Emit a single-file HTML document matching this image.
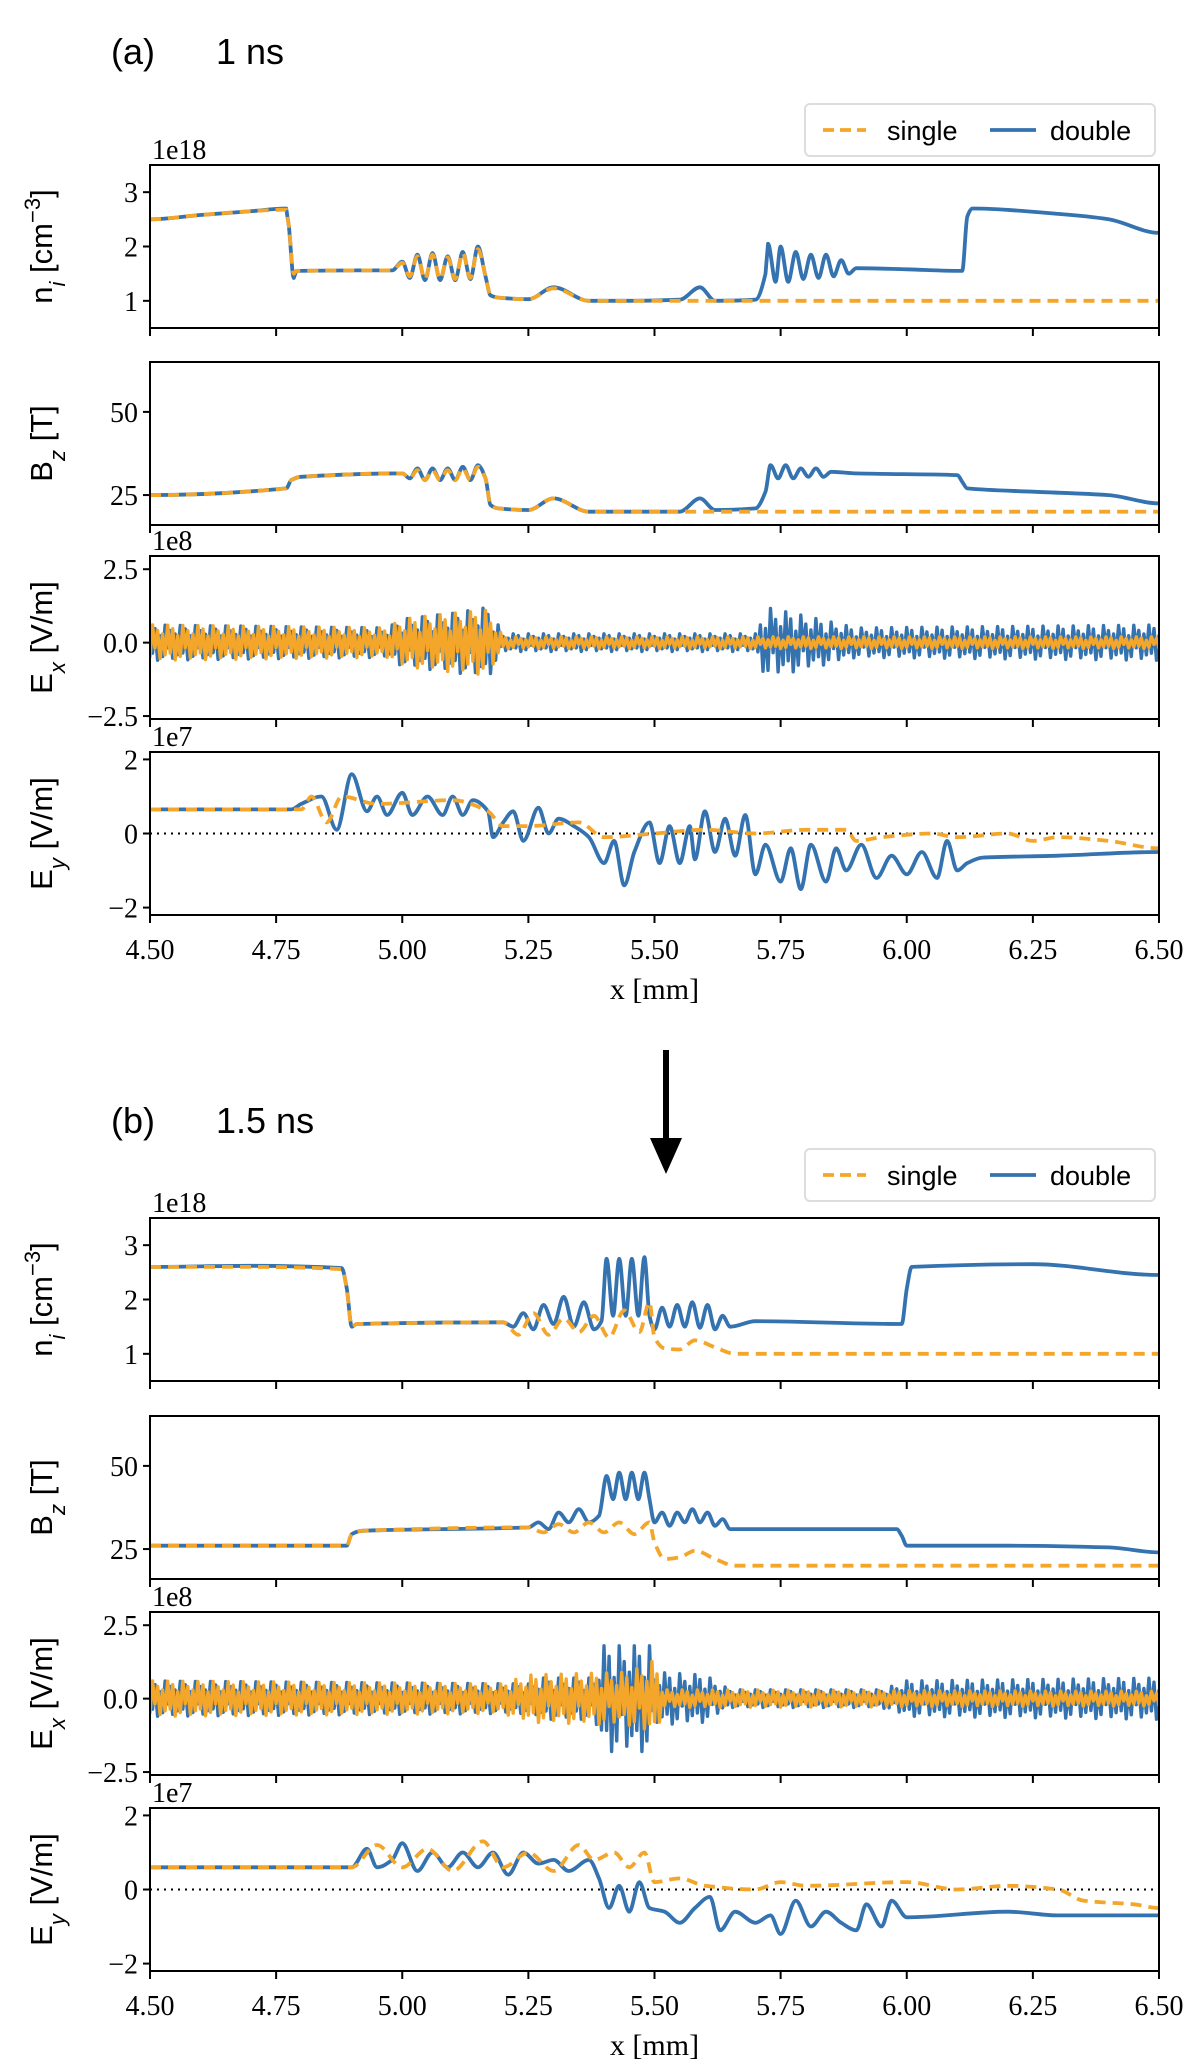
<!DOCTYPE html>
<html><head><meta charset="utf-8"><style>
html,body{margin:0;padding:0;background:#fff}
svg{display:block}
.tk{font-family:"Liberation Serif",serif;font-size:28px;fill:#000}
.yl{font-family:"Liberation Sans",sans-serif;font-size:31px;fill:#000}
.tt{font-family:"Liberation Sans",sans-serif;font-size:36px;fill:#000}
.lg{font-family:"Liberation Sans",sans-serif;font-size:27px;fill:#000}
</style></head><body>
<svg id="fig" width="1200" height="2072" viewBox="0 0 1200 2072" xmlns="http://www.w3.org/2000/svg"></svg>
<script>
// ---------- DATA ----------
const xTicks=[4.5,4.75,5.0,5.25,5.5,5.75,6.0,6.25,6.5];
const xTickLabels=["4.50","4.75","5.00","5.25","5.50","5.75","6.00","6.25","6.50"];
const niTicks=[1,2,3], bTicks=[25,50], exTicks=[-2.5,0,2.5], eyTicks=[-2,0,2];
const exTickLabels=["\u22122.5","0.0","2.5"], eyTickLabels=["\u22122","0","2"];

// Panel (a) 1 ns
const aNiDoubleX=[4.5,4.6,4.7,4.77,4.775,4.785,4.79,4.9,4.98,5.0,5.015,5.03,5.045,5.06,5.075,5.09,5.105,5.12,5.135,5.15,5.165,5.175,5.19,5.25,5.3,5.37,5.45,5.55,5.59,5.62,5.7,5.72,5.725,5.74,5.75,5.765,5.78,5.795,5.81,5.825,5.84,5.855,5.87,5.885,5.9,6.0,6.11,6.12,6.13,6.3,6.4,6.5];
const aNiDoubleY=[2.5,2.58,2.65,2.7,2.4,1.42,1.55,1.56,1.56,1.72,1.42,1.85,1.38,1.88,1.38,1.82,1.38,1.9,1.4,2.0,1.45,1.1,1.06,1.03,1.25,1.0,1.0,1.02,1.25,1.0,1.02,1.5,2.05,1.35,2.0,1.35,1.9,1.4,1.85,1.42,1.85,1.45,1.75,1.5,1.6,1.58,1.55,2.55,2.7,2.6,2.5,2.25];
const aNiSingleX=[4.5,4.6,4.7,4.77,4.775,4.785,4.79,4.9,4.98,5.0,5.015,5.03,5.045,5.06,5.075,5.09,5.105,5.12,5.135,5.15,5.165,5.175,5.19,5.25,5.3,5.37,5.5,6.5];
const aNiSingleY=[2.5,2.58,2.65,2.68,2.4,1.5,1.55,1.56,1.56,1.7,1.45,1.82,1.4,1.85,1.4,1.8,1.4,1.88,1.42,1.95,1.45,1.1,1.06,1.03,1.23,1.0,1.0,1.0];

const aBDoubleX=[4.5,4.77,4.78,4.8,5.0,5.015,5.03,5.045,5.06,5.075,5.09,5.105,5.12,5.135,5.15,5.165,5.175,5.19,5.25,5.3,5.37,5.55,5.59,5.62,5.7,5.72,5.73,5.745,5.76,5.775,5.79,5.805,5.82,5.835,5.85,5.9,6.1,6.11,6.12,6.25,6.4,6.5];
const aBDoubleY=[25,27,29.5,30.5,31.5,30,33,29.5,33,29.5,33,29.5,33.5,29.5,34,30,22,21,20.5,24,20,20,24,20.5,21,26,34,30,34,30,33,30.5,33,30.5,32,31.5,31,29,27,26,25,22.5];
const aBSingleX=[4.5,4.77,4.78,4.8,5.0,5.015,5.03,5.045,5.06,5.075,5.09,5.105,5.12,5.135,5.15,5.165,5.175,5.19,5.25,5.3,5.37,6.5];
const aBSingleY=[25,27,29.5,30.5,31.5,30,32.5,29.5,32.5,29.5,32.5,29.5,33,29.5,33.5,30,22,21,20.5,24,20,20];

const aExDoubleX=[4.5,4.97,5.0,5.1,5.17,5.2,5.7,5.72,5.8,5.9,6.5];
const aExDoubleA=[0.6,0.5,0.8,1.0,1.2,0.3,0.3,1.2,0.9,0.5,0.6];
const aExSingleX=[4.5,4.97,5.0,5.1,5.17,5.2,6.5];
const aExSingleA=[0.6,0.5,0.8,1.0,1.1,0.2,0.2];

const aEyDoubleX=[4.5,4.78,4.8,4.84,4.87,4.9,4.93,4.95,4.97,5.0,5.02,5.05,5.08,5.1,5.12,5.14,5.17,5.18,5.2,5.22,5.24,5.27,5.29,5.31,5.34,5.37,5.4,5.42,5.44,5.46,5.49,5.51,5.53,5.55,5.57,5.58,5.6,5.62,5.64,5.66,5.68,5.7,5.72,5.75,5.77,5.79,5.81,5.84,5.86,5.88,5.91,5.94,5.97,6.0,6.03,6.06,6.08,6.1,6.12,6.15,6.3,6.5];
const aEyDoubleY=[0.65,0.65,0.8,1.0,0.1,1.6,0.6,1.0,0.5,1.1,0.5,1.0,0.5,1.0,0.5,0.9,0.6,-0.1,0.3,0.6,-0.2,0.7,0.0,0.4,0.2,-0.1,-0.8,-0.2,-1.4,-0.5,0.3,-0.8,0.2,-0.8,0.2,-0.7,0.6,-0.5,0.4,-0.6,0.5,-1.1,-0.3,-1.3,-0.4,-1.5,-0.3,-1.3,-0.4,-1.0,-0.3,-1.2,-0.6,-1.1,-0.5,-1.2,-0.2,-1.0,-0.8,-0.65,-0.6,-0.5];
const aEySingleX=[4.5,4.8,4.82,4.85,4.88,4.95,5.1,5.17,5.2,5.25,5.35,5.4,5.5,5.6,5.7,5.8,5.88,5.9,5.95,6.05,6.1,6.2,6.25,6.3,6.4,6.5];
const aEySingleY=[0.65,0.65,1.0,0.3,1.0,0.8,0.9,0.6,0.2,0.2,0.3,-0.1,0.0,0.1,0.0,0.1,0.1,-0.2,-0.1,0.0,-0.1,0.0,-0.2,-0.1,-0.2,-0.4];

// Panel (b) 1.5 ns
const bNiDoubleX=[4.5,4.7,4.88,4.89,4.9,4.91,5.2,5.22,5.24,5.26,5.28,5.3,5.32,5.34,5.36,5.38,5.395,5.405,5.418,5.43,5.443,5.455,5.468,5.48,5.49,5.5,5.515,5.53,5.545,5.56,5.575,5.59,5.605,5.62,5.635,5.65,5.7,5.99,6.0,6.01,6.25,6.5];
const bNiDoubleY=[2.6,2.62,2.58,2.2,1.5,1.55,1.58,1.5,1.75,1.45,1.9,1.55,2.05,1.5,1.95,1.45,1.6,2.75,1.7,2.75,1.7,2.75,1.7,2.78,1.7,1.45,1.85,1.5,1.9,1.5,1.95,1.48,1.9,1.45,1.7,1.5,1.6,1.55,2.2,2.6,2.65,2.45];
const bNiSingleX=[4.5,4.7,4.88,4.89,4.9,4.91,5.2,5.23,5.26,5.29,5.32,5.35,5.38,5.41,5.44,5.47,5.49,5.5,5.52,5.55,5.58,5.62,5.66,6.5];
const bNiSingleY=[2.6,2.6,2.56,2.2,1.5,1.55,1.58,1.35,1.75,1.35,1.65,1.4,1.7,1.3,1.8,1.4,1.95,1.3,1.1,1.08,1.25,1.12,1.0,1.0];

const bBDoubleX=[4.5,4.89,4.9,4.92,5.25,5.27,5.29,5.31,5.33,5.35,5.37,5.39,5.405,5.418,5.43,5.443,5.455,5.468,5.48,5.49,5.5,5.515,5.53,5.545,5.56,5.575,5.59,5.605,5.62,5.635,5.65,5.7,5.98,5.99,6.0,6.2,6.4,6.5];
const bBDoubleY=[26,26,29.5,30.5,31.5,33,31,36,33,37,33,35,47,40,48,40,48,40,48,40,33,36,32,36,33,37,33,36,32,34,31,31,31,29,26,26,25.5,24];
const bBSingleX=[4.5,4.89,4.9,4.92,5.25,5.28,5.31,5.34,5.37,5.4,5.43,5.46,5.49,5.5,5.52,5.55,5.58,5.62,5.66,6.5];
const bBSingleY=[26,26,29.5,30.5,31.5,30,32.5,30,33,30,33,29.5,33,27,22,22.5,24.5,22,20,20];

const bExDoubleX=[4.5,5.25,5.28,5.38,5.4,5.49,5.5,5.6,5.65,5.95,6.0,6.5];
const bExDoubleA=[0.6,0.5,0.7,0.7,1.8,1.8,0.9,0.8,0.3,0.3,0.6,0.7];
const bExSingleX=[4.5,5.2,5.25,5.45,5.5,5.52,6.5];
const bExSingleA=[0.6,0.5,0.8,0.9,1.3,0.3,0.25];

const bEyDoubleX=[4.5,4.9,4.93,4.95,4.98,5.0,5.03,5.06,5.09,5.12,5.15,5.18,5.21,5.24,5.27,5.3,5.33,5.37,5.39,5.41,5.43,5.45,5.47,5.49,5.52,5.55,5.58,5.61,5.63,5.66,5.7,5.73,5.75,5.78,5.81,5.84,5.87,5.9,5.92,5.95,5.97,6.0,6.2,6.3,6.5];
const bEyDoubleY=[0.6,0.6,1.1,0.6,0.8,1.25,0.5,1.0,0.6,1.0,0.6,1.0,0.4,1.0,0.7,0.8,0.5,0.8,0.3,-0.5,0.1,-0.6,0.2,-0.5,-0.6,-0.9,-0.5,-0.2,-1.1,-0.6,-0.9,-0.7,-1.2,-0.3,-1.0,-0.6,-0.9,-1.1,-0.4,-1.0,-0.3,-0.75,-0.6,-0.7,-0.7];
const bEySingleX=[4.5,4.9,4.95,5.0,5.05,5.1,5.16,5.2,5.25,5.3,5.35,5.38,5.42,5.45,5.48,5.5,5.55,5.6,5.7,5.75,5.8,6.0,6.1,6.2,6.3,6.35,6.45,6.5];
const bEySingleY=[0.6,0.6,1.2,0.6,1.1,0.5,1.3,0.6,1.0,0.5,1.2,0.8,1.0,0.6,1.0,0.2,0.3,0.1,0.0,0.2,0.1,0.2,0.0,0.1,0.0,-0.3,-0.4,-0.5];

// ---------- RENDER ----------
const NS="http://www.w3.org/2000/svg";
const svg=document.getElementById('fig');
const BLUE="#3473b0", ORANGE="#f4a62a";
const L=150,R=1159;
const xs=v=>L+(v-4.5)/(6.5-4.5)*(R-L);
function mk(tag,attrs,parent){const e=document.createElementNS(NS,tag);for(const k in attrs)e.setAttribute(k,attrs[k]);(parent||svg).appendChild(e);return e;}
function txt(s,x,y,cls,anchor,parent){const t=mk('text',{x:x,y:y,class:cls,'text-anchor':anchor||'start'},parent);t.textContent=s;return t;}
function interp(X,Y,x){if(x<=X[0])return Y[0];for(let i=1;i<X.length;i++){if(x<=X[i]){const f=(x-X[i-1])/(X[i]-X[i-1]);return Y[i-1]+f*(Y[i]-Y[i-1]);}}return Y[Y.length-1];}
const zig=[1,-0.6,0.8,-1,0.4,-0.8,1,-0.3,0.7,-0.9,0.5,-0.7];
// Monotone-x cubic through the points (peaks preserved), straight for near-vertical steps
function smoothPath(p){
  const n=p.length,f=v=>v.toFixed(1);
  let d='M'+f(p[0][0])+','+f(p[0][1]);
  const slope=[];
  for(let i=0;i<n;i++){
    if(i===0||i===n-1){slope.push(0);continue;}
    const s1=(p[i][1]-p[i-1][1])/(p[i][0]-p[i-1][0]),s2=(p[i+1][1]-p[i][1])/(p[i+1][0]-p[i][0]);
    slope.push(s1*s2<=0?0:2*s1*s2/(s1+s2));
  }
  for(let i=0;i<n-1;i++){
    const dx=p[i+1][0]-p[i][0];
    if(dx<3){d+='L'+f(p[i+1][0])+','+f(p[i+1][1]);continue;}
    const c1x=p[i][0]+dx/3,c1y=p[i][1]+slope[i]*dx/3,c2x=p[i+1][0]-dx/3,c2y=p[i+1][1]-slope[i+1]*dx/3;
    d+='C'+f(c1x)+','+f(c1y)+' '+f(c2x)+','+f(c2y)+' '+f(p[i+1][0])+','+f(p[i+1][1]);
  }
  return d;
}

function panel(top,h,ylo,yhi,ticks,tlabels,offset,label,series,isEy,isBottom,name){
  const g=mk('g',{});
  
  
  const ys=v=>top+(yhi-v)/(yhi-ylo)*h;
  const cp='cp'+Math.round(top);
  const d=mk('clipPath',{id:cp},g);mk('rect',{x:L,y:top,width:R-L,height:h},d);
  const pl=mk('g',{'clip-path':'url(#'+cp+')'},g);
  if(isEy){const z=mk('line',{x1:L,x2:R,y1:ys(0),y2:ys(0),stroke:'#000','stroke-width':2,'stroke-dasharray':'2,5'},pl);
    }
  series.forEach(s=>{
    let pts=[],dd;
    if(s.env){const step=0.005;let k=0;for(let x=4.5;x<=6.5;x+=step,k++){const a=interp(s.X,s.A,x);pts.push([xs(x),ys(a*zig[(k+s.ph)%zig.length])]);}
      dd='M'+pts.map(q=>q[0].toFixed(1)+','+q[1].toFixed(1)).join('L');}
    else {pts=s.X.map((x,i)=>[xs(x),ys(s.Y[i])]);dd=smoothPath(pts);}
    const p=mk('path',{d:dd,fill:'none',stroke:s.c,'stroke-width':s.env?3.4:3.8,'stroke-linejoin':'round','stroke-linecap':'round','stroke-dasharray':s.dash?'11,7':'none'},pl);
    if(s.dash)p.setAttribute('stroke-linecap','butt');
    
  });
  const fr=mk('rect',{x:L,y:top,width:R-L,height:h,fill:'none',stroke:'#000','stroke-width':2},g);
  
  ticks.forEach((t,i)=>{mk('line',{x1:L-7,x2:L,y1:ys(t),y2:ys(t),stroke:'#000','stroke-width':2},g);
    const tl=txt(tlabels[i],L-12,ys(t)+10,'tk','end',g);});
  xTicks.forEach((t,i)=>{mk('line',{x1:xs(t),x2:xs(t),y1:top+h,y2:top+h+8,stroke:'#000','stroke-width':2},g);
    if(isBottom){const tl=txt(xTickLabels[i],xs(t),top+h+44,'tk','middle',g);}});
  if(offset){const o=txt(offset,L+2,top-6,'tk','start',g);}
  const yl=mk('text',{x:0,y:0,class:'yl','text-anchor':'middle',transform:'translate(52,'+(top+h/2)+') rotate(-90)'},g);
  yl.innerHTML=label;
  if(isBottom){const xl=txt('x [mm]',(L+R)/2,top+h+84,'tk','middle',g);xl.style.fontSize='30px';}
}
const niL='n<tspan font-style="italic" baseline-shift="sub" font-size="22">i</tspan> [cm<tspan baseline-shift="super" font-size="22">\u22123</tspan>]';
const bL='B<tspan font-style="italic" baseline-shift="sub" font-size="22">z</tspan> [T]';
const exL='E<tspan font-style="italic" baseline-shift="sub" font-size="22">x</tspan> [V/m]';
const eyL='E<tspan font-style="italic" baseline-shift="sub" font-size="22">y</tspan> [V/m]';
function fig(tops,h,D,tag){
  panel(tops[0],h,0.5,3.5,niTicks,["1","2","3"],'1e18',niL,[{X:D.niDX,Y:D.niDY,c:BLUE,n:'double-ni-line'},{X:D.niSX,Y:D.niSY,c:ORANGE,dash:1,n:'single-ni-line'}],false,false,tag+'-ni-panel');
  panel(tops[1],h,16,65,bTicks,["25","50"],null,bL,[{X:D.bDX,Y:D.bDY,c:BLUE,n:'double-bz-line'},{X:D.bSX,Y:D.bSY,c:ORANGE,dash:1,n:'single-bz-line'}],false,false,tag+'-bz-panel');
  panel(tops[2],h,-2.6,2.95,exTicks,exTickLabels,'1e8',exL,[{X:D.exDX,A:D.exDA,env:1,ph:0,c:BLUE,n:'double-ex-line'},{X:D.exSX,A:D.exSA,env:1,ph:5,c:ORANGE,n:'single-ex-line'}],false,false,tag+'-ex-panel');
  panel(tops[3],h,-2.2,2.2,eyTicks,eyTickLabels,'1e7',eyL,[{X:D.eyDX,Y:D.eyDY,c:BLUE,n:'double-ey-line'},{X:D.eySX,Y:D.eySY,c:ORANGE,dash:1,n:'single-ey-line'}],true,true,tag+'-ey-panel');
}
fig([165,362,556,752],163,{niDX:aNiDoubleX,niDY:aNiDoubleY,niSX:aNiSingleX,niSY:aNiSingleY,bDX:aBDoubleX,bDY:aBDoubleY,bSX:aBSingleX,bSY:aBSingleY,exDX:aExDoubleX,exDA:aExDoubleA,exSX:aExSingleX,exSA:aExSingleA,eyDX:aEyDoubleX,eyDY:aEyDoubleY,eySX:aEySingleX,eySY:aEySingleY},'a');
fig([1218,1416,1612,1808],163,{niDX:bNiDoubleX,niDY:bNiDoubleY,niSX:bNiSingleX,niSY:bNiSingleY,bDX:bBDoubleX,bDY:bBDoubleY,bSX:bBSingleX,bSY:bBSingleY,exDX:bExDoubleX,exDA:bExDoubleA,exSX:bExSingleX,exSA:bExSingleA,eyDX:bEyDoubleX,eyDY:bEyDoubleY,eySX:bEySingleX,eySY:bEySingleY},'b');

function legend(y){
  const g=mk('g',{});
  
  
  mk('rect',{x:805,y:y,width:350,height:52,rx:5,fill:'#fff',stroke:'#ddd','stroke-width':2},g);
  mk('line',{x1:823,x2:866,y1:y+26,y2:y+26,stroke:ORANGE,'stroke-width':3.8,'stroke-dasharray':'11,6'},g);
  const t1=txt('single',887,y+36,'lg','start',g);
  mk('line',{x1:990,x2:1036,y1:y+26,y2:y+26,stroke:BLUE,'stroke-width':3.8},g);
  const t2=txt('double',1050,y+36,'lg','start',g);
}
legend(104);legend(1149);
function title(a,b,y){const t=txt(a,111,y,'tt','start');
  const u=txt(b,216,y,'tt','start');}
title('(a)','1 ns',64);title('(b)','1.5 ns',1133);
const ar=mk('g',{});


mk('line',{x1:666,x2:666,y1:1050,y2:1142,stroke:'#000','stroke-width':6},ar);
mk('polygon',{points:'650,1138 682,1138 666,1174',fill:'#000'},ar);
</script>
</body></html>
